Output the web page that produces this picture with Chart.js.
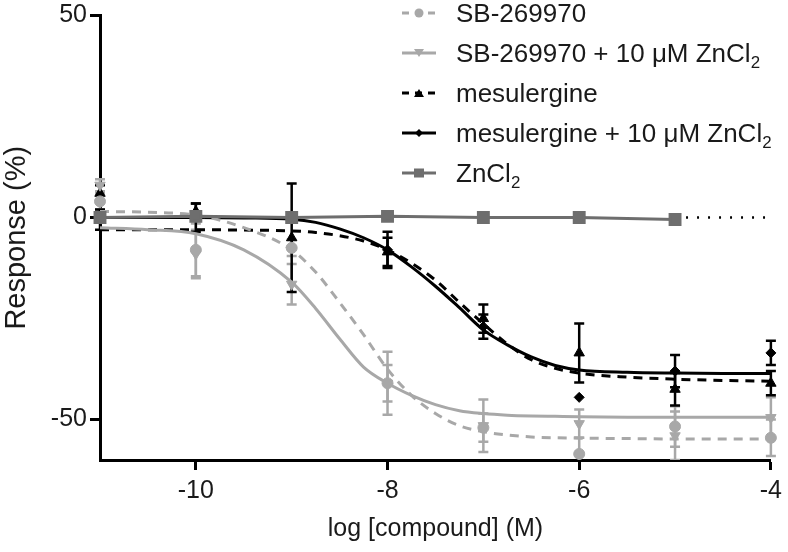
<!DOCTYPE html>
<html>
<head>
<meta charset="utf-8">
<script src="https://cdn.jsdelivr.net/npm/chart.js@4.4.1/dist/chart.umd.min.js"></script>
<style>
  html, body { margin: 0; padding: 0; background: #fff; }
  #wrap { position: relative; width: 788px; height: 552px; }
  #legend { position: absolute; left: 400px; top: 0; font-family: 'Liberation Sans', Arial, sans-serif; font-size: 26px; color: #1a1a1a; }
  .row { position: absolute; left: 0; height: 40px; display: flex; align-items: center; white-space: nowrap; }
  .row svg { width: 38px; height: 20px; margin-right: 18px; flex: none; }
  .row sub { font-size: 0.65em; vertical-align: -0.35em; line-height: 0; }
</style>
</head>
<body>
<div id="wrap">
  <canvas id="chart" width="788" height="552"></canvas>
  <div id="legend"></div>
</div>
<script>
// measured points (mean, +/- error), log [compound]
const doseX = [-11, -10, -9, -8, -7, -6, -5, -4];
const sbMean = [4, -8, -7.5, -41, -52, -58.5, -51.7, -54.5];
const sbErr = [2, 6.5, 2, 7.8, 3.5, 4, 5, 4.5];
const sbZnMean = [8, -9, -16.5, -41, -51.5, -51, -54, -49.5];
const sbZnErr = [1.5, 6, 5, 4.5, 6.5, 3.5, 6, 5];
const mesMean = [6, 1.5, -5, -8.5, -25, -33.5, -42.5, -41];
const mesErr = [2, 2, 13.4, 3.5, 3.5, 7.3, 4, 3];
const mesZnMean = [-0.5, 0, 0, -8, -27, -44.5, -38, -33.5];
const mesZnErr = [2.5, 3.5, 1, 4.5, 3, 0, 4, 3];
const znX = [-11, -10, -9, -8, -7, -6, -5];
const znMean = [0, 0.3, 0, 0.3, 0, 0, -0.5];
const znDotX = [-5, -4];
const znDotY = [0, 0];

// fitted curves
const fitX = [-11, -10.5, -10, -9.5, -9, -8.75, -8.5, -8.25, -8, -7.75, -7.5, -7.25, -7, -6.75, -6.5, -6.25, -6, -5.5, -5, -4.5, -4];
const sbFit = [1.5, 1.3, 0.6, -2.5, -8, -13.5, -21, -29, -37.5, -44, -48.5, -51.5, -53, -53.8, -54.3, -54.5, -54.6, -54.7, -54.8, -54.8, -54.8];
const sbZnFit = [-2.5, -3, -4, -8, -16, -22.5, -30, -37, -41, -44, -46.3, -47.8, -48.5, -48.9, -49.1, -49.2, -49.3, -49.4, -49.4, -49.4, -49.4];
const mesFit = [-3, -3, -3, -3.1, -3.3, -3.7, -4.5, -5.8, -8, -11.3, -15.5, -21, -26.3, -31.3, -35.2, -37.3, -38.5, -39.5, -40, -40.3, -40.5];
const mesZnFit = [0, 0, 0, -0.1, -0.4, -1.2, -2.8, -5, -8, -12.2, -17, -22.3, -27.8, -31.5, -34.5, -36.6, -37.7, -38.3, -38.5, -38.6, -38.6];

const xTicks = [-10, -8, -6, -4];
const yTicks = [-50, 0, 50];

const LIGHT = '#a8a8a8';
const DARK = '#6e6e6e';
const BLACK = '#000000';
const FONT = "'Liberation Sans', Arial, sans-serif";

const legendItems = [
  { label: 'SB-269970', color: LIGHT, dash: '7,6', marker: 'circle' },
  { label: 'SB-269970 + 10 μM ZnCl<sub>2</sub>', color: LIGHT, dash: '', marker: 'triDown' },
  { label: 'mesulergine', color: BLACK, dash: '7,6', marker: 'triUp' },
  { label: 'mesulergine + 10 μM ZnCl<sub>2</sub>', color: BLACK, dash: '', marker: 'diamond' },
  { label: 'ZnCl<sub>2</sub>', color: DARK, dash: '', marker: 'square' }
];

function pts(xs, ys) {
  return xs.map((x, i) => ({ x: x, y: ys[i] }));
}

function curve(ys, color, dash) {
  return {
    data: pts(fitX, ys),
    borderColor: color,
    borderWidth: 3,
    borderDash: dash,
    pointRadius: 0,
    cubicInterpolationMode: 'monotone',
    showLine: true,
    fill: false,
    order: 3
  };
}

function markers(ys, errs, color, style, radius, rotation) {
  return {
    data: pts(doseX, ys),
    errors: errs,
    borderColor: color,
    backgroundColor: color,
    pointStyle: style,
    pointRadius: radius,
    pointRotation: rotation || 0,
    pointBorderWidth: 1,
    showLine: false,
    clip: false,
    order: 2
  };
}

const errorBars = {
  id: 'errorBars',
  beforeDatasetsDraw(chart) {
    const { ctx, chartArea, scales } = chart;
    ctx.save();
    ctx.beginPath();
    ctx.rect(0, chartArea.top - 20, chart.width, chartArea.bottom - chartArea.top + 20);
    ctx.clip();
    chart.data.datasets.forEach((ds) => {
      if (!ds.errors) return;
      ctx.strokeStyle = ds.borderColor;
      ctx.lineWidth = 2.5;
      ds.data.forEach((p, i) => {
        const e = ds.errors[i];
        if (!e) return;
        const px = scales.x.getPixelForValue(p.x);
        const top = scales.y.getPixelForValue(p.y + e);
        const bot = scales.y.getPixelForValue(p.y - e);
        ctx.beginPath();
        ctx.moveTo(px, top); ctx.lineTo(px, bot);
        ctx.moveTo(px - 5, top); ctx.lineTo(px + 5, top);
        ctx.moveTo(px - 5, bot); ctx.lineTo(px + 5, bot);
        ctx.stroke();
      });
    });
    ctx.restore();
  }
};

const datasets = [
  {
    data: pts(znX, znMean),
    borderColor: DARK,
    backgroundColor: DARK,
    borderWidth: 3,
    pointStyle: 'rect',
    pointRadius: 7,
    showLine: true,
    clip: false,
    order: 0
  },
  {
    data: pts(znDotX, znDotY),
    borderColor: BLACK,
    borderWidth: 2.5,
    borderDash: [2, 9],
    pointRadius: 0,
    showLine: true,
    order: 1
  },
  markers(sbMean, sbErr, LIGHT, 'circle', 5.5),
  markers(sbZnMean, sbZnErr, LIGHT, 'triangle', 6, 180),
  markers(mesMean, mesErr, BLACK, 'triangle', 6),
  markers(mesZnMean, mesZnErr, BLACK, 'rectRot', 5),
  curve(sbFit, LIGHT, [9, 7]),
  curve(sbZnFit, LIGHT, []),
  curve(mesFit, BLACK, [9, 7]),
  curve(mesZnFit, BLACK, [])
];

new Chart(document.getElementById('chart'), {
  type: 'scatter',
  data: { datasets },
  plugins: [errorBars],
  options: {
    responsive: false,
    animation: false,
    devicePixelRatio: 1,
    layout: { padding: { top: 13, right: 13, left: 0, bottom: 0 } },
    plugins: { legend: { display: false }, tooltip: { enabled: false } },
    scales: {
      x: {
        type: 'linear',
        min: -11,
        max: -4,
        afterBuildTicks: (scale) => { scale.ticks = xTicks.map((v) => ({ value: v })); },
        afterFit: (scale) => { scale.height = 92; },
        border: { display: true, color: BLACK, width: 3 },
        grid: { drawOnChartArea: false, drawTicks: true, tickLength: 10, tickWidth: 3, tickColor: BLACK },
        ticks: { color: '#1a1a1a', font: { family: FONT, size: 25 }, padding: 6, maxRotation: 0 },
        title: { display: true, text: 'log [compound] (M)', color: '#1a1a1a', font: { family: FONT, size: 25 }, padding: { top: 0, bottom: 8 } }
      },
      y: {
        type: 'linear',
        min: -60,
        max: 50,
        afterBuildTicks: (scale) => { scale.ticks = yTicks.map((v) => ({ value: v })); },
        afterFit: (scale) => { scale.width = 100; },
        border: { display: true, color: BLACK, width: 3 },
        grid: { drawOnChartArea: false, drawTicks: true, tickLength: 10, tickWidth: 3, tickColor: BLACK },
        ticks: { color: '#1a1a1a', font: { family: FONT, size: 25, lineHeight: 1 }, padding: 3 },
        title: { display: true, text: 'Response (%)', color: '#1a1a1a', font: { family: FONT, size: 29 }, padding: { top: 0, bottom: 0 } }
      }
    }
  }
});

function markerSvg(shape, color) {
  if (shape === 'circle') return `<circle cx="19" cy="10" r="4.5" fill="${color}"/>`;
  if (shape === 'triDown') return `<polygon points="14,6 24,6 19,14" fill="${color}"/>`;
  if (shape === 'triUp') return `<polygon points="14,14 24,14 19,6" fill="${color}"/>`;
  if (shape === 'diamond') return `<polygon points="19,6 23,10 19,14 15,10" fill="${color}"/>`;
  return `<rect x="14" y="5.5" width="10" height="9" fill="${color}"/>`;
}

const legendEl = document.getElementById('legend');
legendEl.innerHTML = legendItems.map((item, i) => {
  const dash = item.dash ? ` stroke-dasharray="${item.dash}"` : '';
  return `<div class="row" style="top:${-7 + i * 40}px">
    <svg viewBox="0 0 38 20"><line x1="2" y1="10" x2="36" y2="10" stroke="${item.color}" stroke-width="3"${dash}/>${markerSvg(item.marker, item.color)}</svg>
    <span>${item.label}</span></div>`;
}).join('');
</script>
</body>
</html>
